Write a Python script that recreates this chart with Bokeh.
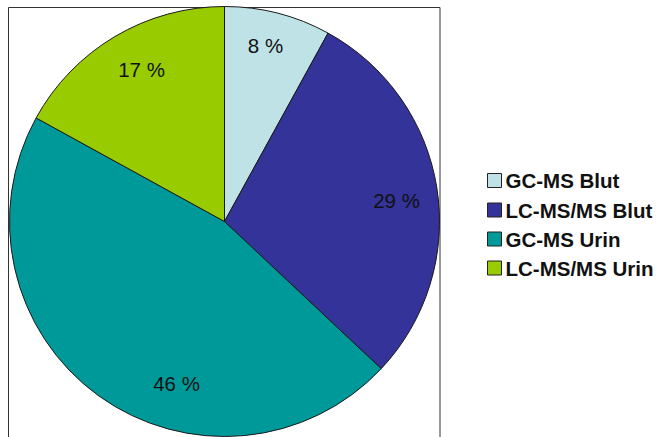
import math
from bokeh.plotting import figure
from bokeh.models import Range1d, ColumnDataSource
from bokeh.core.properties import value
from bokeh.embed import file_html
from bokeh.resources import INLINE

# ---- data ----
categories = ["GC-MS Blut", "LC-MS/MS Blut", "GC-MS Urin", "LC-MS/MS Urin"]
percent = [8, 29, 46, 17]
colors = ["#BFE2E6", "#333399", "#009999", "#99CC00"]
pct_labels = ["8 %", "29 %", "46 %", "17 %"]

# ---- layout (pixels) ----
W, H = 659, 437
CX, CY, R = 224, H - 221, 215
label_xy = [(265, 45), (396, 200), (176, 383), (141, 69)]  # label anchors (px from top-left)

p = figure(width=W, height=H, output_backend="svg", toolbar_location=None,
           x_range=Range1d(0, W), y_range=Range1d(0, H),
           x_axis_location=None, y_axis_location=None, min_border=0)
p.grid.visible = False
p.outline_line_color = None
p.background_fill_color = "white"
p.border_fill_color = "white"

# frame around the pie
p.quad(left=[8], right=[439.5], top=[H - 7], bottom=[-10],
       fill_color=None, line_color="#333333", line_width=1)

# wedges: start at 12 o'clock, clockwise
total = float(sum(percent))
starts, ends = [], []
cum = 0.0
for v in percent:
    starts.append(math.pi / 2 - 2 * math.pi * cum / total)
    cum += v
    ends.append(math.pi / 2 - 2 * math.pi * cum / total)

src = ColumnDataSource(dict(x=[CX] * len(percent), y=[CY] * len(percent),
                            start=starts, end=ends, color=colors, cat=categories))
p.wedge(x="x", y="y", radius=R, start_angle="start", end_angle="end",
        direction="clock", fill_color="color", line_color="#1a1a1a",
        line_width=1, source=src)

# percentage labels
p.text(x=[xy[0] for xy in label_xy], y=[H - xy[1] for xy in label_xy],
       text=pct_labels, text_align="center", text_baseline="middle",
       text_font=value("Liberation Sans"), text_font_size="20.5px",
       text_color="#111111")

# legend (drawn manually)
leg_x_box, leg_x_text = 494, 505
leg_rows = [180, 209.5, 238.5, 267.5]
p.rect(x=[leg_x_box] * 4, y=[H - r for r in leg_rows], width=14, height=14,
       fill_color=colors, line_color="#222222", line_width=1)
p.text(x=[leg_x_text] * 4, y=[H - r for r in leg_rows], text=categories,
       text_align="left", text_baseline="middle",
       text_font=value("Liberation Sans"), text_font_style="bold",
       text_font_size="20.5px", text_color="#111111")

open("out.html", "w").write(file_html(p, INLINE))
